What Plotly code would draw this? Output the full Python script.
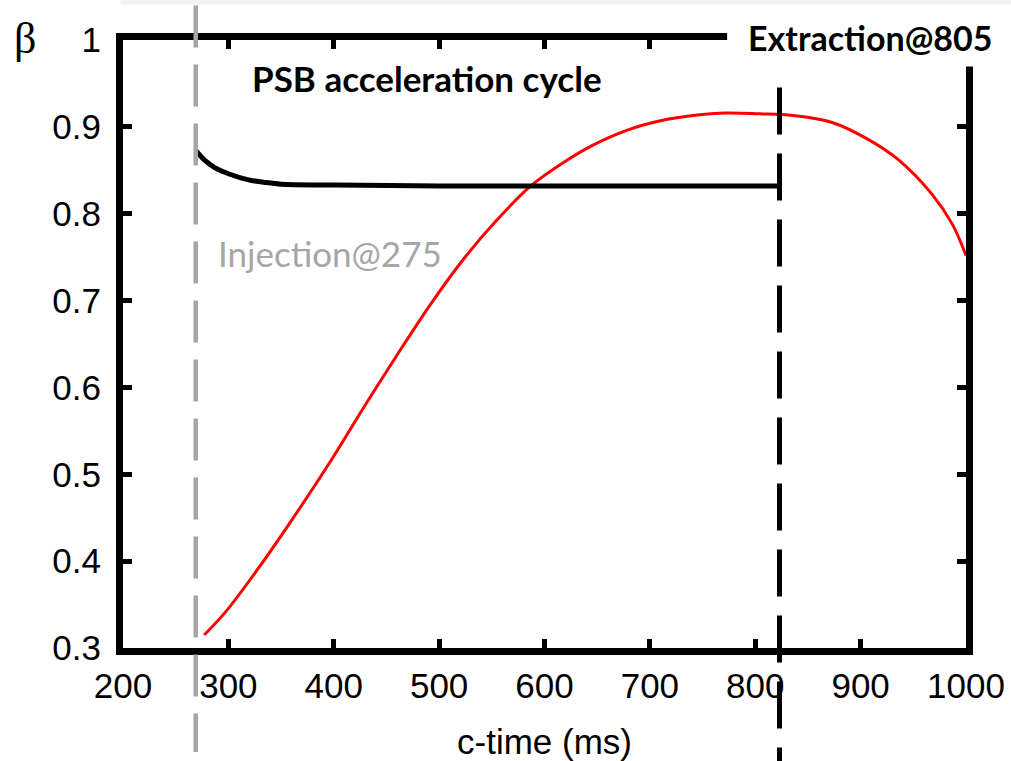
import plotly.graph_objects as go

# ---- data ----
red_x = [277, 297, 328, 360, 398, 429, 461, 492, 524, 555, 587, 618, 646, 678,
         710, 741, 773, 804, 836, 873, 905, 936, 968, 987, 1000]
red_y = [0.315, 0.341, 0.391, 0.447, 0.517, 0.578, 0.639, 0.696, 0.749, 0.793,
         0.832, 0.859, 0.879, 0.896, 0.907, 0.913, 0.916, 0.915, 0.913, 0.905,
         0.887, 0.862, 0.822, 0.788, 0.752]

black_x = [269, 278, 287, 300, 319, 335, 350, 400, 500, 600, 700, 823]
black_y = [0.873, 0.861, 0.853, 0.846, 0.839, 0.836, 0.834, 0.833, 0.832,
           0.832, 0.832, 0.832]

injection_x = 269
extraction_x = 823

x_ticks = [200, 300, 400, 500, 600, 700, 800, 900, 1000]
x_ticktext = ["200", "300", "400", "500", "600", "700", "800", "900", "1000"]
y_ticks = [0.3, 0.4, 0.5, 0.6, 0.7, 0.8, 0.9, 1.0]
y_ticktext = ["0.3", "0.4", "0.5", "0.6", "0.7", "0.8", "0.9", "1"]

TICKFONT = dict(family="Liberation Sans, Arial, sans-serif", size=35, color="black")
BOLDFONT = "Lato, Noto Sans, sans-serif"

fig = go.Figure()
fig.add_trace(go.Scatter(x=red_x, y=red_y, mode="lines",
                         line=dict(color="#ff0000", width=3, shape="spline", smoothing=1.0),
                         cliponaxis=False, showlegend=False))
fig.add_trace(go.Scatter(x=black_x, y=black_y, mode="lines",
                         line=dict(color="black", width=5, shape="spline", smoothing=0.8),
                         cliponaxis=False, showlegend=False))

L, R, T, B = 122.5, 45, 39.5, 113
W, H = 1011, 761
pw = W - L - R
ph = H - T - B

def py_paper(py):
    # pixel y -> paper y
    return (H - B - py) / ph

def px_paper(px):
    return (px - L) / pw

shapes = []
# white box hiding frame behind extraction label
shapes.append(dict(type="rect", xref="paper", yref="paper",
                   x0=px_paper(727), x1=px_paper(1015),
                   y0=py_paper(66), y1=py_paper(-5),
                   fillcolor="white", line=dict(width=0), layer="above"))
# faint band at very top
shapes.append(dict(type="rect", xref="paper", yref="paper",
                   x0=px_paper(120), x1=px_paper(1015),
                   y0=py_paper(4), y1=py_paper(-2),
                   fillcolor="#f2f2f2", line=dict(width=0), layer="above"))
# injection dashed line (gray)
shapes.append(dict(type="line", xref="x", yref="paper",
                   x0=injection_x, x1=injection_x,
                   y0=py_paper(5), y1=py_paper(752),
                   line=dict(color="#a6a6a6", width=4.5, dash="42px,17px"),
                   layer="above"))
# extraction dashed line (black)
shapes.append(dict(type="line", xref="x", yref="paper",
                   x0=extraction_x, x1=extraction_x,
                   y0=py_paper(87), y1=py_paper(770),
                   line=dict(color="black", width=5, dash="47px,19px"),
                   layer="above"))

annotations = [
    dict(text="PSB acceleration cycle", x=px_paper(426.5), y=py_paper(78),
         xref="paper", yref="paper", showarrow=False,
         font=dict(family=BOLDFONT, size=35, color="black", weight="bold"),
         xanchor="center", yanchor="middle"),
    dict(text="Injection@275", x=px_paper(329.5), y=py_paper(253),
         xref="paper", yref="paper", showarrow=False,
         font=dict(family=BOLDFONT, size=35, color="#a6a6a6"),
         xanchor="center", yanchor="middle"),
    dict(text="Extraction@805", x=px_paper(870), y=py_paper(37),
         xref="paper", yref="paper", showarrow=False,
         font=dict(family=BOLDFONT, size=34, color="black", weight="bold"),
         xanchor="center", yanchor="middle"),
    dict(text="β", x=px_paper(24), y=py_paper(38),
         xref="paper", yref="paper", showarrow=False,
         font=dict(family="Liberation Serif, DejaVu Serif, serif", size=44, color="black"),
         xanchor="center", yanchor="middle"),
]

fig.update_layout(
    width=W, height=H,
    margin=dict(l=L, r=R, t=T, b=B, pad=0, autoexpand=False),
    paper_bgcolor="white", plot_bgcolor="white",
    shapes=shapes, annotations=annotations,
    xaxis=dict(range=[200, 1000], tickvals=x_ticks, ticktext=x_ticktext,
               showgrid=False, zeroline=False, automargin=False,
               showline=True, linecolor="black", linewidth=7, mirror="ticks",
               ticks="inside", ticklen=9, tickwidth=5, tickcolor="black",
               tickfont=TICKFONT, ticklabelstandoff=1,
               title=dict(text="c-time (ms)", font=TICKFONT, standoff=30)),
    yaxis=dict(range=[0.3, 1.0], tickvals=y_ticks, ticktext=y_ticktext,
               showgrid=False, zeroline=False, automargin=False,
               showline=True, linecolor="black", linewidth=7, mirror="ticks",
               ticks="inside", ticklen=9, tickwidth=5, tickcolor="black",
               tickfont=TICKFONT, ticklabelstandoff=8),
)

fig.write_html("out.html")
